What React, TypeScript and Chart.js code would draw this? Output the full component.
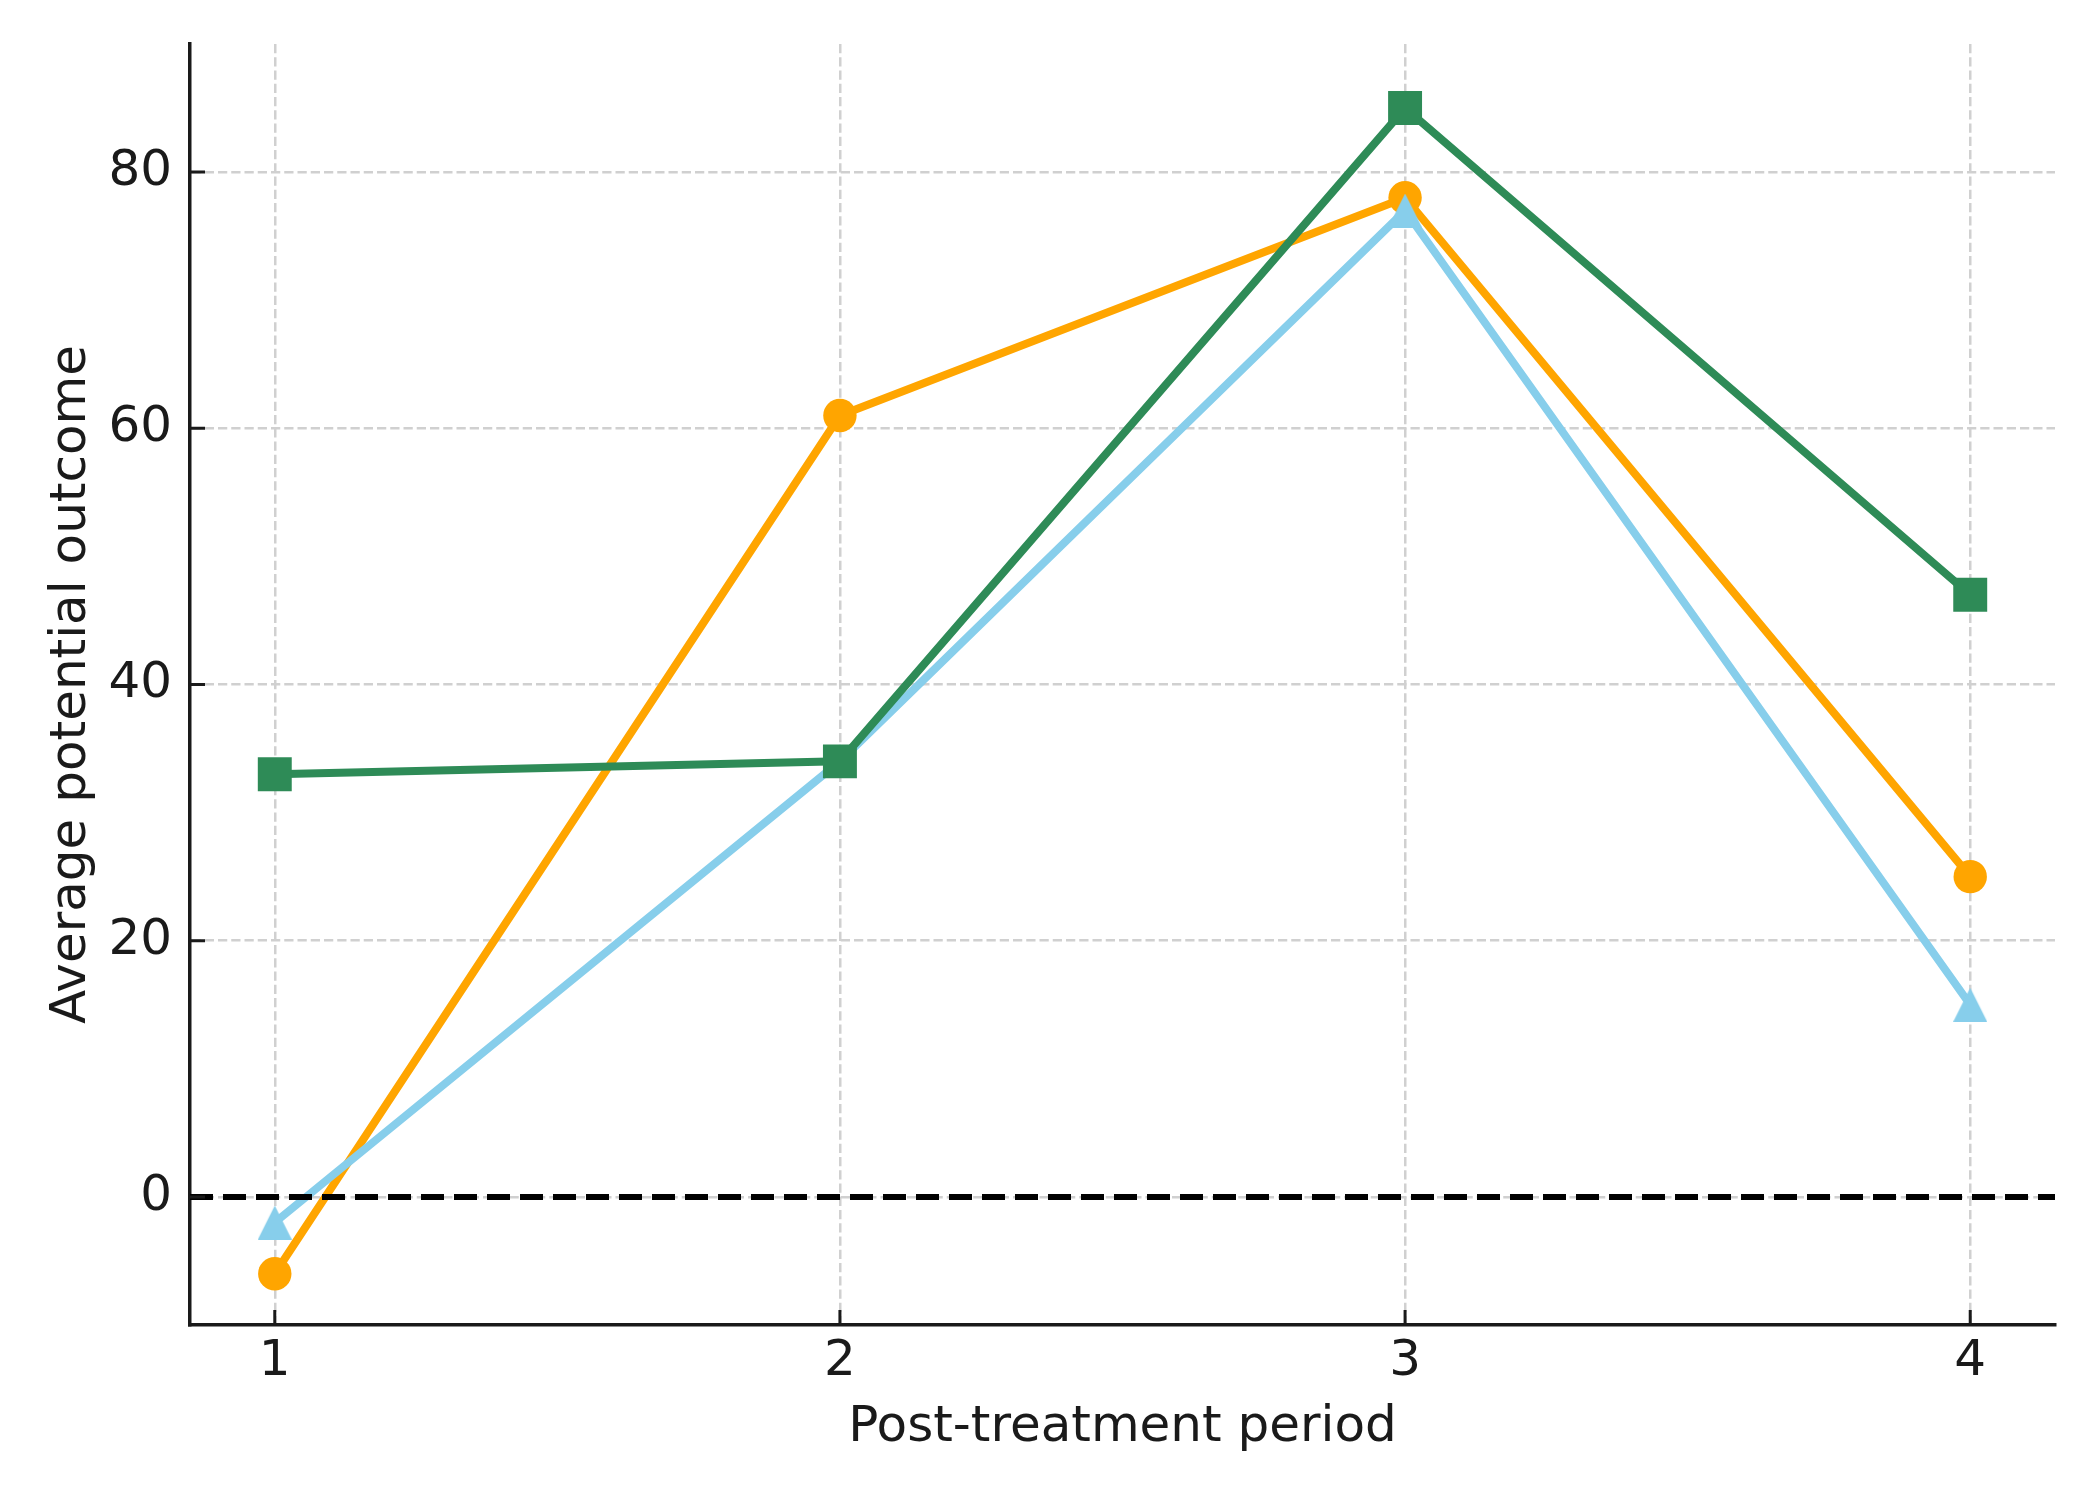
import React, { useEffect, useRef } from "react";
import { Chart, registerables } from "chart.js";

Chart.register(...registerables);

// ---- data ----
const periods = [1, 2, 3, 4];
const xTicks = [1, 2, 3, 4];
const yTicks = [0, 20, 40, 60, 80];
const seriesGreen = [33, 34, 85, 47];
const seriesBlue = [-2, 34, 77, 15];
const seriesOrange = [-6, 61, 78, 25];
const xLabel = "Post-treatment period";
const yLabel = "Average potential outcome";

const GREEN = "#2e8b57";
const BLUE = "#87ceeb";
const ORANGE = "#ffa500";
const INK = "#1a1a1a";
const FONT = "'DejaVu Sans', sans-serif";

function makeTriangle(color: string, size: number) {
  const c = document.createElement("canvas");
  c.width = size;
  c.height = size;
  const ctx = c.getContext("2d")!;
  ctx.fillStyle = color;
  ctx.beginPath();
  ctx.moveTo(size / 2, 0);
  ctx.lineTo(size, size);
  ctx.lineTo(0, size);
  ctx.closePath();
  ctx.fill();
  return c;
}

const zeroLinePlugin = {
  id: "zeroLine",
  afterDatasetsDraw(chart: any) {
    const { ctx, chartArea, scales } = chart;
    const y = scales.y.getPixelForValue(0);
    ctx.save();
    ctx.strokeStyle = "#000";
    ctx.lineWidth = 6;
    ctx.setLineDash([23, 10]);
    ctx.beginPath();
    ctx.moveTo(chartArea.left, y);
    ctx.lineTo(chartArea.right, y);
    ctx.stroke();
    ctx.restore();
  },
};

const inwardTicksPlugin = {
  id: "inwardTicks",
  afterDatasetsDraw(chart: any) {
    const { ctx, chartArea, scales } = chart;
    ctx.save();
    ctx.strokeStyle = INK;
    ctx.lineWidth = 3;
    ctx.beginPath();
    for (const t of scales.x.ticks) {
      const x = scales.x.getPixelForValue(t.value);
      ctx.moveTo(x, chartArea.bottom);
      ctx.lineTo(x, chartArea.bottom - 15);
    }
    for (const t of scales.y.ticks) {
      const y = scales.y.getPixelForValue(t.value);
      ctx.moveTo(chartArea.left, y);
      ctx.lineTo(chartArea.left + 15, y);
    }
    ctx.stroke();
    ctx.restore();
  },
};

const toPoints = (vals: number[]) => periods.map((x, i) => ({ x, y: vals[i] }));

export default function App() {
  const ref = useRef<HTMLCanvasElement>(null);

  useEffect(() => {
    document.body.style.margin = "0";
    const canvas = ref.current!;
    const tri = makeTriangle(BLUE, 34);

    const gridCfg = { color: "#d0d0d0", lineWidth: 2.5, drawTicks: false };
    const borderCfg = { display: true, color: INK, width: 3.5, dash: [9.25, 4] };
    const tickFont = { family: FONT, size: 50, lineHeight: 1.2 };

    const chart = new Chart(canvas, {
      type: "line",
      data: {
        datasets: [
          {
            label: "green",
            data: toPoints(seriesGreen),
            borderColor: GREEN,
            backgroundColor: GREEN,
            borderWidth: 8,
            pointStyle: "rect",
            pointRadius: 24,
            pointBorderWidth: 0,
            pointBackgroundColor: GREEN,
            borderJoinStyle: "round",
            tension: 0,
          },
          {
            label: "blue",
            data: toPoints(seriesBlue),
            borderColor: BLUE,
            backgroundColor: BLUE,
            borderWidth: 8,
            pointStyle: tri as any,
            pointRadius: 17,
            pointBorderWidth: 0,
            borderJoinStyle: "round",
            tension: 0,
          },
          {
            label: "orange",
            data: toPoints(seriesOrange),
            borderColor: ORANGE,
            backgroundColor: ORANGE,
            borderWidth: 8,
            pointStyle: "circle",
            pointRadius: 16.7,
            pointBorderWidth: 0,
            pointBackgroundColor: ORANGE,
            borderJoinStyle: "round",
            tension: 0,
          },
        ],
      } as any,
      options: {
        responsive: false,
        animation: false,
        devicePixelRatio: 1,
        layout: { padding: { left: 0, right: 45, top: 44, bottom: 0 } },
        plugins: {
          legend: { display: false },
          tooltip: { enabled: false },
        },
        scales: {
          x: {
            type: "linear",
            min: 0.85,
            max: 4.15,
            afterBuildTicks: (s: any) => {
              s.ticks = xTicks.map((v) => ({ value: v }));
            },
            afterFit: (s: any) => {
              s.height = 175;
              s.paddingLeft = 0;
              s.paddingRight = 0;
            },
            grid: gridCfg,
            border: borderCfg,
            ticks: {
              color: INK,
              font: tickFont,
              padding: 7,
              maxRotation: 0,
              autoSkip: false,
              callback: (v: any) => String(v),
            },
            title: {
              display: true,
              text: xLabel,
              color: INK,
              font: tickFont,
              padding: { top: 0, bottom: 42 },
            },
          },
          y: {
            type: "linear",
            min: -10,
            max: 90,
            afterBuildTicks: (s: any) => {
              s.ticks = yTicks.map((v) => ({ value: v }));
            },
            afterFit: (s: any) => {
              s.width = 190;
              s.paddingTop = 0;
              s.paddingBottom = 0;
            },
            grid: gridCfg,
            border: borderCfg,
            ticks: {
              color: INK,
              font: tickFont,
              padding: 18,
              autoSkip: false,
              callback: (v: any) => String(v),
            },
            title: {
              display: true,
              text: yLabel,
              color: INK,
              font: tickFont,
              padding: { top: 42, bottom: 0 },
            },
          },
        },
      } as any,
      plugins: [zeroLinePlugin, inwardTicksPlugin],
    });

    return () => chart.destroy();
  }, []);

  return (
    <div style={{ width: 2100, height: 1500, background: "#fff" }}>
      <canvas ref={ref} width={2100} height={1500} style={{ display: "block" }} />
    </div>
  );
}
